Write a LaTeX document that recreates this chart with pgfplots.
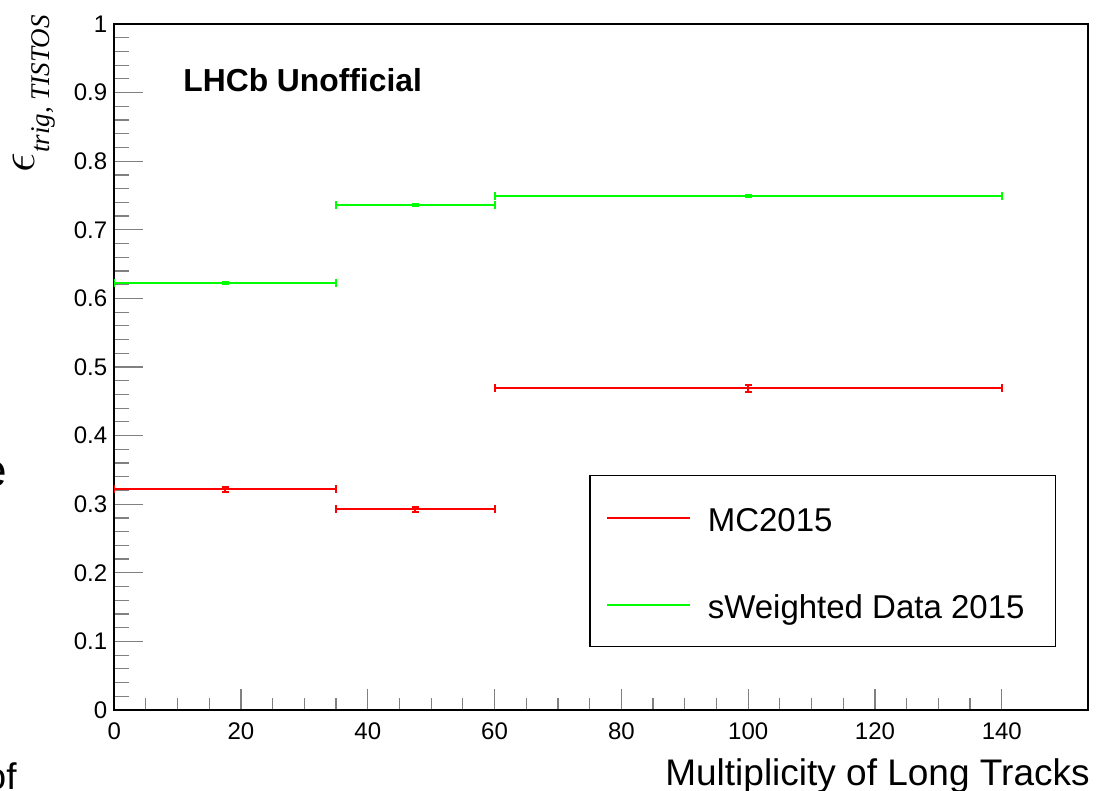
\documentclass[border=0pt]{standalone}
\usepackage{pgfplots}
\pgfplotsset{compat=1.18}
\usepackage{fontspec}
\setmainfont{Liberation Sans}
\newfontfamily\seriffont{Liberation Serif}

\begin{document}
\begin{tikzpicture}
\begin{axis}[
  at={(0pt,0pt)}, anchor=south west,
  scale only axis, width=486.9pt, height=343pt,
  xmin=0, xmax=153.6, ymin=0, ymax=1,
  axis line style={line width=0.75pt},
  tick align=inside, xtick pos=bottom, ytick pos=left,
  xtick={0,20,40,60,80,100,120,140},
  ytick={0,0.1,0.2,0.3,0.4,0.5,0.6,0.7,0.8,0.9,1},
  minor x tick num=3, minor y tick num=4,
  xtick style={line width=0.6pt, /pgfplots/major tick length=10.5pt, /pgfplots/minor tick length=6pt},
  ytick style={line width=0.6pt, /pgfplots/major tick length=14.5pt, /pgfplots/minor tick length=7.5pt},
  ticklabel style={font=\fontsize{12}{12}\selectfont},
  xticklabel style={yshift=-3pt},
  /pgf/number format/assume math mode=true,
  yticklabel style={/pgf/number format/fixed, /pgf/number format/precision=1},
  scaled y ticks=false,
  legend style={at={(rel axis cs:0.4876,0.3426)}, anchor=north west, draw=black, line width=0.75pt, fill=white,
    inner xsep=8pt, inner ysep=14pt, row sep=29.5pt, column sep=8.5pt,
    font=\fontsize{16.5}{16.5}\selectfont,
    nodes={inner sep=0pt, text height=14pt, text depth=0pt}, cells={anchor=west}},
  legend image code/.code={\draw[#1] (0pt,0pt) -- (41.5pt,0pt);},
]
% MC2015: horizontal (bin width) bars
\addplot[forget plot, draw=none, mark=none,
  error bars/.cd, x dir=both, x explicit, error mark=|,
  error bar style={draw=red, line width=1pt},
  error mark options={draw=red, mark size=2pt, line width=1pt}]
  table[x=x, y=y, x error=ex] {
x y ex ey
17.5 0.3217 17.5 0.004
47.5 0.2926 12.5 0.0035
100 0.4689 40 0.0055
};
% MC2015: vertical (statistical) bars
\addplot[forget plot, draw=none, mark=none,
  error bars/.cd, y dir=both, y explicit, error mark=|,
  error bar style={draw=red, line width=1pt},
  error mark options={draw=red, mark size=1.8pt, line width=1pt}]
  table[x=x, y=y, y error=ey] {
x y ex ey
17.5 0.3217 17.5 0.004
47.5 0.2926 12.5 0.0035
100 0.4689 40 0.0055
};
% sWeighted Data 2015: horizontal bars
\addplot[forget plot, draw=none, mark=none,
  error bars/.cd, x dir=both, x explicit, error mark=|,
  error bar style={draw=green, line width=1pt},
  error mark options={draw=green, mark size=2pt, line width=1pt}]
  table[x=x, y=y, x error=ex] {
x y ex ey
17.5 0.6229 17.5 0.0015
47.5 0.7362 12.5 0.0012
100 0.7493 40 0.0012
};
% sWeighted Data 2015: vertical bars
\addplot[forget plot, draw=none, mark=none,
  error bars/.cd, y dir=both, y explicit, error mark=|,
  error bar style={draw=green, line width=1pt},
  error mark options={draw=green, mark size=1.8pt, line width=1pt}]
  table[x=x, y=y, y error=ey] {
x y ex ey
17.5 0.6229 17.5 0.0015
47.5 0.7362 12.5 0.0012
100 0.7493 40 0.0012
};
\addlegendimage{red, line width=1pt}
\addlegendentry{MC2015}
\addlegendimage{green, line width=1pt}
\addlegendentry{sWeighted Data 2015\kern7.5pt\mbox{}}
\end{axis}
\node[anchor=base west, inner sep=0pt, font=\bfseries\fontsize{15.9}{15.9}\selectfont] at (34.4pt,309pt) {LHCb Unofficial};
\node[anchor=base east, inner sep=0pt, font=\fontsize{18.5}{18.5}\selectfont] at (487.9pt,-37.5pt) {Multiplicity of Long Tracks};
\node[rotate=90, anchor=base east, inner sep=0pt] at (-39.8pt,347.5pt)
  {\fontsize{28}{28}\selectfont$\epsilon$\raisebox{-7.5pt}{\fontsize{13.5}{13.5}\selectfont\seriffont\itshape trig, TISTOS}};
\node[anchor=base east, inner sep=0pt, font=\fontsize{23}{23}\selectfont] at (-53.6pt,111.5pt) {e};
\node[anchor=base east, inner sep=0pt, font=\fontsize{18.5}{18.5}\selectfont] at (-48.6pt,-39.5pt) {of};
\pgfresetboundingbox
\useasboundingbox (-57.1pt,-40.5pt) rectangle (490.9pt,355pt);
\end{tikzpicture}
\end{document}
